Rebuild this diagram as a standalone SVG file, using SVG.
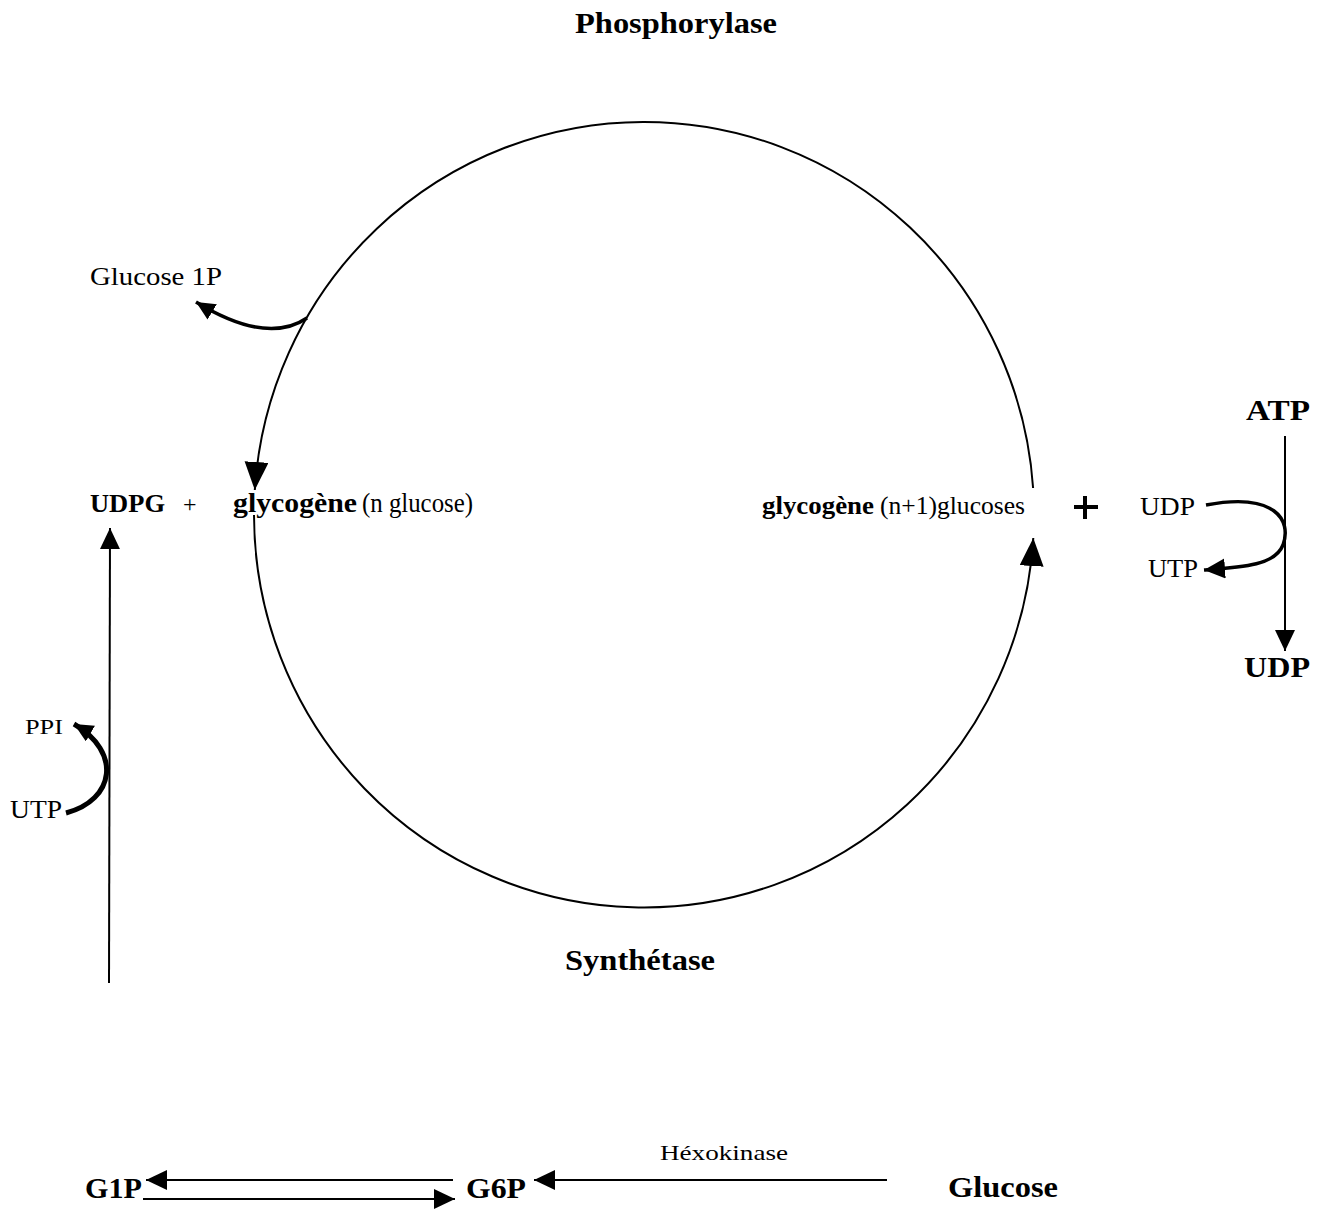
<svg xmlns="http://www.w3.org/2000/svg" width="1321" height="1213" viewBox="0 0 1321 1213">
<defs>
<style>
text{font-family:"Liberation Serif","Times New Roman",serif;fill:#000}
.b{font-weight:bold}
.ln{fill:none;stroke:#000;stroke-width:2}
.cv{fill:none;stroke:#000;stroke-width:3.5}
</style>
<marker id="big" markerUnits="userSpaceOnUse" markerWidth="30" markerHeight="26" refX="28" refY="12" orient="auto"><path d="M0,0 L28,12 L0,24 z" fill="#000"/></marker>
<marker id="med" markerUnits="userSpaceOnUse" markerWidth="24" markerHeight="22" refX="21" refY="10" orient="auto"><path d="M0,0 L21,10 L0,20 z" fill="#000"/></marker>
<marker id="sm" markerUnits="userSpaceOnUse" markerWidth="22" markerHeight="20" refX="19" refY="9" orient="auto"><path d="M0,0 L19,9 L0,18 z" fill="#000"/></marker>
</defs>
<g id="connectors">
<path id="phosphorylase-arc" class="ln" d="M1033.1,488 A390,393 0 0 0 254.8,490" marker-end="url(#big)"/>
<path id="synthetase-arc" class="ln" d="M254,515 A390,393 0 0 0 1033.3,538" marker-end="url(#big)"/>
<path id="g1p-release" class="cv" d="M307,318 C285,333 250,335 196,302" marker-end="url(#sm)"/>
<path id="to-udpg" class="ln" d="M109,983 L110,528" marker-end="url(#med)"/>
<path id="utp-ppi" fill="none" stroke="#000" stroke-width="5" d="M66,813 C115,800 122,752 74,724" marker-end="url(#sm)"/>
<path id="atp-udp" class="ln" d="M1285,436 L1285,651" marker-end="url(#med)"/>
<path id="udp-utp" class="cv" d="M1206,505 C1275,492 1292,520 1283,545 C1275,565 1245,567 1204,570" marker-end="url(#med)"/>
<path id="g6p-g1p" class="ln" d="M453,1180 L146,1180" marker-end="url(#med)"/>
<path id="g1p-g6p" class="ln" d="M143,1199 L455,1199" marker-end="url(#med)"/>
<path id="glucose-g6p" class="ln" d="M887,1180 L534,1180" marker-end="url(#med)"/>
</g>
<g id="label-phosphorylase"><text class="b" x="575" y="33" font-size="30" textLength="202" lengthAdjust="spacingAndGlyphs">Phosphorylase</text></g>
<g id="label-synthetase"><text class="b" x="565" y="970" font-size="30" textLength="150" lengthAdjust="spacingAndGlyphs">Synthétase</text></g>
<g id="node-glucose1p"><text x="90" y="285" font-size="26" textLength="132" lengthAdjust="spacingAndGlyphs">Glucose 1P</text></g>
<g id="node-udpg"><text class="b" x="90" y="512" font-size="26" textLength="75" lengthAdjust="spacingAndGlyphs">UDPG</text><text x="183" y="512" font-size="24">+</text></g>
<g id="node-glycogen-n"><text class="b" x="233" y="512" font-size="27" textLength="124" lengthAdjust="spacingAndGlyphs">glycogène</text><text x="362" y="512" font-size="27" textLength="111" lengthAdjust="spacingAndGlyphs">(n glucose)</text></g>
<g id="node-glycogen-n1"><text class="b" x="762" y="514" font-size="26" textLength="112" lengthAdjust="spacingAndGlyphs">glycogène</text><text x="880" y="514" font-size="26" textLength="145" lengthAdjust="spacingAndGlyphs">(n+1)glucoses</text></g>
<g id="plus-right"><path d="M1074,507 H1098 M1085,496 V519" stroke="#000" stroke-width="4"/></g>
<g id="node-udp-small"><text x="1140" y="515" font-size="25" textLength="55" lengthAdjust="spacingAndGlyphs">UDP</text></g>
<g id="node-utp-small"><text x="1148" y="577" font-size="25" textLength="50" lengthAdjust="spacingAndGlyphs">UTP</text></g>
<g id="node-atp"><text class="b" x="1246" y="420" font-size="29" textLength="64" lengthAdjust="spacingAndGlyphs">ATP</text></g>
<g id="node-udp"><text class="b" x="1244" y="677" font-size="29" textLength="66" lengthAdjust="spacingAndGlyphs">UDP</text></g>
<g id="node-ppi"><text x="25" y="734" font-size="22" textLength="38" lengthAdjust="spacingAndGlyphs">PPI</text></g>
<g id="node-utp-left"><text x="10" y="818" font-size="25" textLength="52" lengthAdjust="spacingAndGlyphs">UTP</text></g>
<g id="node-g1p"><text class="b" x="85" y="1198" font-size="29" textLength="57" lengthAdjust="spacingAndGlyphs">G1P</text></g>
<g id="node-g6p"><text class="b" x="466" y="1198" font-size="29" textLength="60" lengthAdjust="spacingAndGlyphs">G6P</text></g>
<g id="label-hexokinase"><text x="660" y="1160" font-size="22" textLength="128" lengthAdjust="spacingAndGlyphs">Héxokinase</text></g>
<g id="node-glucose"><text class="b" x="948" y="1197" font-size="29" textLength="110" lengthAdjust="spacingAndGlyphs">Glucose</text></g>
</svg>
